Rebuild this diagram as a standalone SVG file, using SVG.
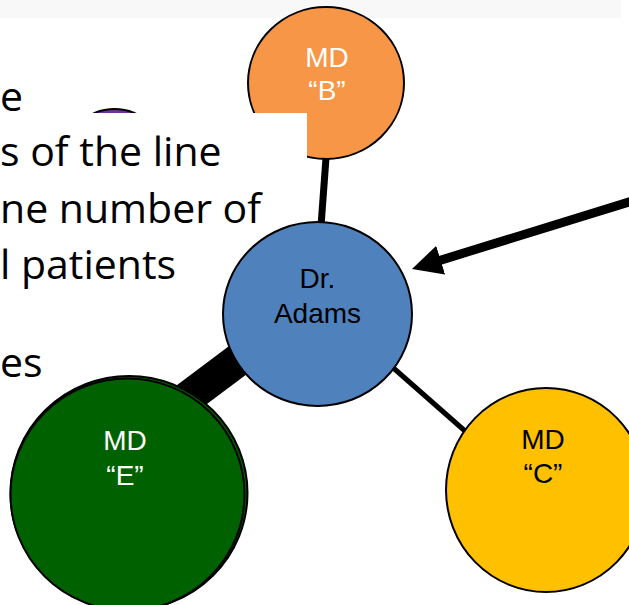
<svg xmlns="http://www.w3.org/2000/svg" width="629" height="605" viewBox="0 0 629 605">
<style>
.node{stroke:#000;stroke-width:2}
.lbl{font-family:"Liberation Sans",Arial,sans-serif;font-size:28px;text-anchor:middle}
.body{font-family:"Open Sans","Liberation Sans",sans-serif;font-size:41px;fill:#000}
.edge{stroke:#000;fill:none}
</style>
<defs>
<marker id="ah" viewBox="0 0 30 30" refX="10" refY="15" markerWidth="30" markerHeight="30" markerUnits="userSpaceOnUse" orient="auto">
<path d="M0,0 L30,15 L0,30 Z" fill="#000"/>
</marker>
</defs>
<rect x="0" y="0" width="621" height="18" fill="#f8f8f8"/>
<text class="body" x="0" y="111">e</text>
<g id="node-purple">
<ellipse class="node" cx="114.5" cy="159" rx="50" ry="50" fill="#7030a0"/>
</g>
<g id="node-B">
<ellipse class="node" cx="326" cy="83" rx="78" ry="76" fill="#f79646"/>
<text class="lbl" x="327" y="67" fill="#fff">MD</text>
<text class="lbl" x="327" y="100" fill="#fff">“B”</text>
</g>
<rect x="40" y="113" width="267" height="104" fill="#fff"/>
<text class="body" x="0" y="166">s of the line</text>
<text class="body" x="0" y="223">ne number of</text>
<text class="body" x="0" y="279">l patients</text>
<text class="body" x="0" y="377">es</text>
<g id="connectors">
<line class="edge" x1="326" y1="158" x2="321" y2="226" stroke-width="7"/>
<line class="edge" x1="150" y1="426" x2="262" y2="342" stroke-width="33"/>
<line class="edge" x1="390" y1="365" x2="465" y2="431" stroke-width="5"/>
</g>
<g id="node-Adams">
<ellipse class="node" cx="317.5" cy="314" rx="94.5" ry="92" fill="#4f81bd"/>
<text class="lbl" x="317.5" y="288" fill="#000">Dr.</text>
<text class="lbl" x="317.5" y="323" fill="#000">Adams</text>
</g>
<g id="node-E">
<ellipse class="node" cx="129" cy="493" rx="118.5" ry="117" fill="#006100"/>
<ellipse class="node" cx="127.5" cy="494.5" rx="117" ry="116" fill="#006100"/>
<text class="lbl" x="125" y="450" fill="#fff">MD</text>
<text class="lbl" x="125" y="485" fill="#fff">“E”</text>
</g>
<g id="node-C">
<ellipse class="node" cx="546" cy="490" rx="100" ry="102" fill="#ffc000"/>
<text class="lbl" x="543" y="449" fill="#000">MD</text>
<text class="lbl" x="543" y="483" fill="#000">“C”</text>
</g>
<g id="arrow">
<line class="edge" x1="640" y1="198.6" x2="431.1" y2="263.1" stroke-width="9" marker-end="url(#ah)"/>
</g>
</svg>
